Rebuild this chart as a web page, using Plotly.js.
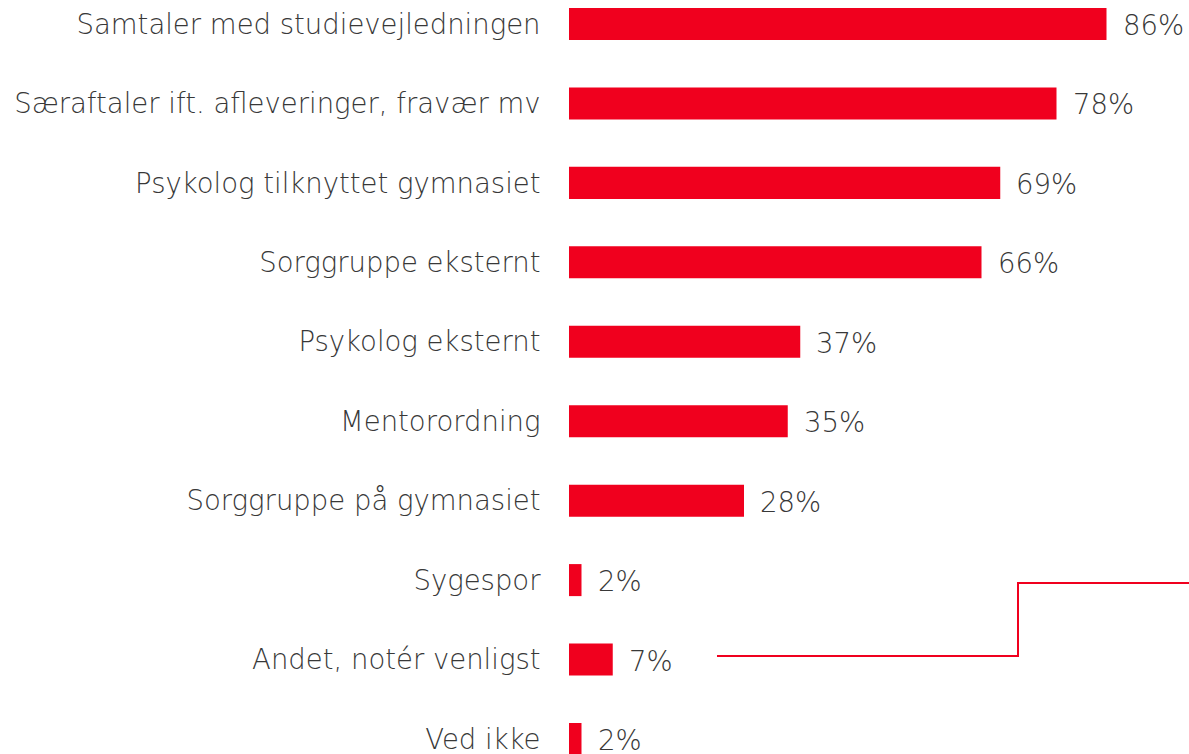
<!DOCTYPE html>
<html>
<head>
<meta charset="utf-8">
<script src="https://cdn.plot.ly/plotly-3.0.1.min.js"></script>
<style>html,body{margin:0;padding:0;background:#fff;}#chart{width:1189px;height:754px;}</style>
</head>
<body>
<div id="chart"></div>
<script>
const categories = [
  "Samtaler med studievejledningen",
  "Særaftaler ift. afleveringer, fravær mv",
  "Psykolog tilknyttet gymnasiet",
  "Sorggruppe eksternt",
  "Psykolog eksternt",
  "Mentorordning",
  "Sorggruppe på gymnasiet",
  "Sygespor",
  "Andet, notér venligst",
  "Ved ikke"
];
const values = [86, 78, 69, 66, 37, 35, 28, 2, 7, 2];
const valueLabels = values.map(v => v + "%");

const red = "#F0001E";
const textColor = "#383838";
const fontFamily = "'DejaVu Sans', sans-serif";

const trace = {
  type: "bar",
  orientation: "h",
  y: categories,
  x: values,
  width: 0.403,
  marker: {color: red},
  hoverinfo: "skip"
};

const annotations = values.map((v, i) => ({
  x: v, y: categories[i], xref: "x", yref: "y",
  text: valueLabels[i], showarrow: false,
  xanchor: "left", yanchor: "middle", xshift: 14, yshift: -1,
  font: {family: fontFamily, size: 27.5, weight: 200, color: textColor}
}));

const layout = {
  width: 1189, height: 754,
  margin: {l: 569, r: 0, t: 0, b: 0, pad: 0},
  paper_bgcolor: "#fff", plot_bgcolor: "#fff",
  showlegend: false,
  xaxis: {range: [0, 99.2], visible: false, fixedrange: true},
  yaxis: {
    type: "category",
    range: [9.189, -0.302],
    showgrid: false, zeroline: false, showline: false,
    ticks: "outside", ticklen: 22, tickcolor: "rgba(0,0,0,0)",
    tickfont: {family: fontFamily, size: 27.5, weight: 200, color: textColor},
    automargin: false
  },
  annotations: annotations,
  shapes: [{
    type: "path", xref: "paper", yref: "paper",
    path: "M 0.2387 0.13 L 0.7242 0.13 L 0.7242 0.2268 L 1.0 0.2268",
    line: {color: red, width: 2}
  }]
};

Plotly.newPlot("chart", [trace], layout, {displayModeBar: false, staticPlot: true});
</script>
</body>
</html>
